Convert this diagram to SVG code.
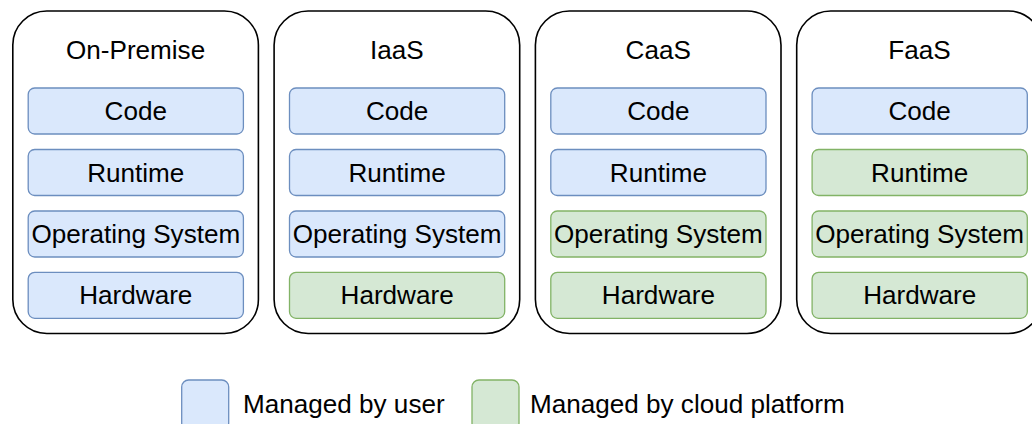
<svg xmlns="http://www.w3.org/2000/svg" width="1032" height="424" viewBox="0 0 1032 424">
  <style>
    .panel { fill: #ffffff; stroke: #000000; stroke-width: 1.6; }
    .user { fill: #dae8fc; stroke: #6c8ebf; stroke-width: 1.3; }
    .cloud { fill: #d5e8d4; stroke: #82b366; stroke-width: 1.3; }
    text { font-family: "Liberation Sans", Arial, sans-serif; font-size: 26.1px; fill: #000000; }
    .c { text-anchor: middle; }
  </style>
  <rect width="1032" height="424" fill="#ffffff"/>

  <g id="panel-onpremise">
    <rect class="panel" x="12.8" y="11" width="245.6" height="322.5" rx="34" ry="34"/>
    <text class="c" x="135.6" y="58.5">On-Premise</text>
    <g id="onprem-code"><rect class="user" x="28.2" y="88" width="215.2" height="46" rx="6.5"/><text class="c" x="135.8" y="120">Code</text></g>
    <g id="onprem-runtime"><rect class="user" x="28.2" y="149.5" width="215.2" height="46" rx="6.5"/><text class="c" x="135.8" y="181.5">Runtime</text></g>
    <g id="onprem-os"><rect class="user" x="28.2" y="211" width="215.2" height="46" rx="6.5"/><text class="c" x="135.8" y="243">Operating System</text></g>
    <g id="onprem-hw"><rect class="user" x="28.2" y="272.3" width="215.2" height="46" rx="6.5"/><text class="c" x="135.8" y="304.3">Hardware</text></g>
  </g>

  <g id="panel-iaas">
    <rect class="panel" x="274.1" y="11" width="245.6" height="322.5" rx="34" ry="34"/>
    <text class="c" x="396.9" y="58.5">IaaS</text>
    <g id="iaas-code"><rect class="user" x="289.5" y="88" width="215.2" height="46" rx="6.5"/><text class="c" x="397.1" y="120">Code</text></g>
    <g id="iaas-runtime"><rect class="user" x="289.5" y="149.5" width="215.2" height="46" rx="6.5"/><text class="c" x="397.1" y="181.5">Runtime</text></g>
    <g id="iaas-os"><rect class="user" x="289.5" y="211" width="215.2" height="46" rx="6.5"/><text class="c" x="397.1" y="243">Operating System</text></g>
    <g id="iaas-hw"><rect class="cloud" x="289.5" y="272.3" width="215.2" height="46" rx="6.5"/><text class="c" x="397.1" y="304.3">Hardware</text></g>
  </g>

  <g id="panel-caas">
    <rect class="panel" x="535.4" y="11" width="245.6" height="322.5" rx="34" ry="34"/>
    <text class="c" x="658.2" y="58.5">CaaS</text>
    <g id="caas-code"><rect class="user" x="550.8" y="88" width="215.2" height="46" rx="6.5"/><text class="c" x="658.4" y="120">Code</text></g>
    <g id="caas-runtime"><rect class="user" x="550.8" y="149.5" width="215.2" height="46" rx="6.5"/><text class="c" x="658.4" y="181.5">Runtime</text></g>
    <g id="caas-os"><rect class="cloud" x="550.8" y="211" width="215.2" height="46" rx="6.5"/><text class="c" x="658.4" y="243">Operating System</text></g>
    <g id="caas-hw"><rect class="cloud" x="550.8" y="272.3" width="215.2" height="46" rx="6.5"/><text class="c" x="658.4" y="304.3">Hardware</text></g>
  </g>

  <g id="panel-faas">
    <rect class="panel" x="796.7" y="11" width="245.6" height="322.5" rx="34" ry="34"/>
    <text class="c" x="919.5" y="58.5">FaaS</text>
    <g id="faas-code"><rect class="user" x="812.1" y="88" width="215.2" height="46" rx="6.5"/><text class="c" x="919.7" y="120">Code</text></g>
    <g id="faas-runtime"><rect class="cloud" x="812.1" y="149.5" width="215.2" height="46" rx="6.5"/><text class="c" x="919.7" y="181.5">Runtime</text></g>
    <g id="faas-os"><rect class="cloud" x="812.1" y="211" width="215.2" height="46" rx="6.5"/><text class="c" x="919.7" y="243">Operating System</text></g>
    <g id="faas-hw"><rect class="cloud" x="812.1" y="272.3" width="215.2" height="46" rx="6.5"/><text class="c" x="919.7" y="304.3">Hardware</text></g>
  </g>

  <g id="legend">
    <g id="legend-user">
      <rect class="user" x="181.7" y="380" width="47" height="50" rx="7"/>
      <text x="243" y="413">Managed by user</text>
    </g>
    <g id="legend-cloud">
      <rect class="cloud" x="472" y="380" width="47" height="50" rx="7"/>
      <text x="530" y="413">Managed by cloud platform</text>
    </g>
  </g>

  <g id="connectors"></g>
</svg>
